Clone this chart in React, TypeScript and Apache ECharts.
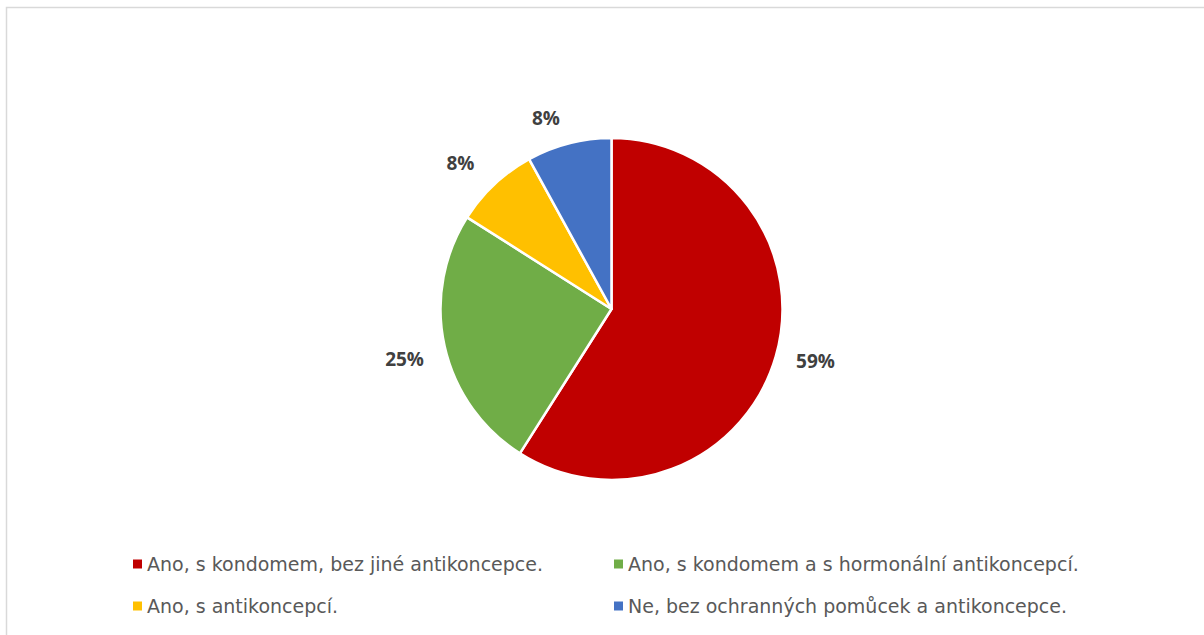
import React, { useEffect, useRef } from "react";
import * as echarts from "echarts";

const categories = [
  "Ano, s kondomem, bez jiné antikoncepce.",
  "Ano, s kondomem a s hormonální antikoncepcí.",
  "Ano, s antikoncepcí.",
  "Ne, bez ochranných pomůcek a antikoncepce.",
];
const values = [59, 25, 8, 8];
const colors = ["#C00000", "#70AD47", "#FFC000", "#4472C4"];
const labelNudgeY = [0, 9, -10, -10];
const labelNudgeX = [0, 0, -4, 0];

export default function App() {
  const ref = useRef<HTMLDivElement>(null);
  useEffect(() => {
    document.body.style.margin = "0";
    const chart = echarts.init(ref.current!, null, { renderer: "svg" });
    chart.setOption({
      animation: false,
      backgroundColor: "#ffffff",
      graphic: [
        {
          type: "rect",
          shape: { x: 6.5, y: 7.5, width: 1300, height: 700 },
          style: { fill: "none", stroke: "#d9d9d9", lineWidth: 1.5 },
          silent: true,
        },
      ],
      legend: {
        left: 133,
        top: 543,
        width: 1000,
        padding: 0,
        orient: "horizontal",
        itemWidth: 9,
        itemHeight: 9,
        itemGap: 0,
        itemTextGap: 6,
        itemStyle: { borderWidth: 0 },
        icon: "rect",
        data: categories,
        textStyle: {
          fontFamily: "DejaVu Sans",
          fontSize: 19,
          color: "#595959",
          width: 467,
          lineHeight: 42,
        },
      },
      series: [
        {
          type: "pie",
          center: [611.5, 309],
          radius: 171,
          startAngle: 90,
          clockwise: true,
          avoidLabelOverlap: false,
          itemStyle: { borderColor: "#ffffff", borderWidth: 2.5 },
          label: {
            show: true,
            position: "outside",
            formatter: "{c}%",
            fontFamily: "Open Sans",
            fontWeight: "bold",
            fontSize: 19,
            color: "#404040",
            distanceToLabelLine: 5,
          },
          labelLine: { show: false, length: 16, length2: 0 },
          labelLayout: (p: any) => ({
            dx: labelNudgeX[p.dataIndex] || 0,
            dy: labelNudgeY[p.dataIndex] || 0,
          }),
          emphasis: { disabled: true },
          data: categories.map((name, i) => ({
            name,
            value: values[i],
            itemStyle: { color: colors[i] },
          })),
        },
      ],
    });
    return () => chart.dispose();
  }, []);
  return (
    <div
      ref={ref}
      style={{ position: "absolute", left: 0, top: 0, width: 1204, height: 635 }}
    />
  );
}
